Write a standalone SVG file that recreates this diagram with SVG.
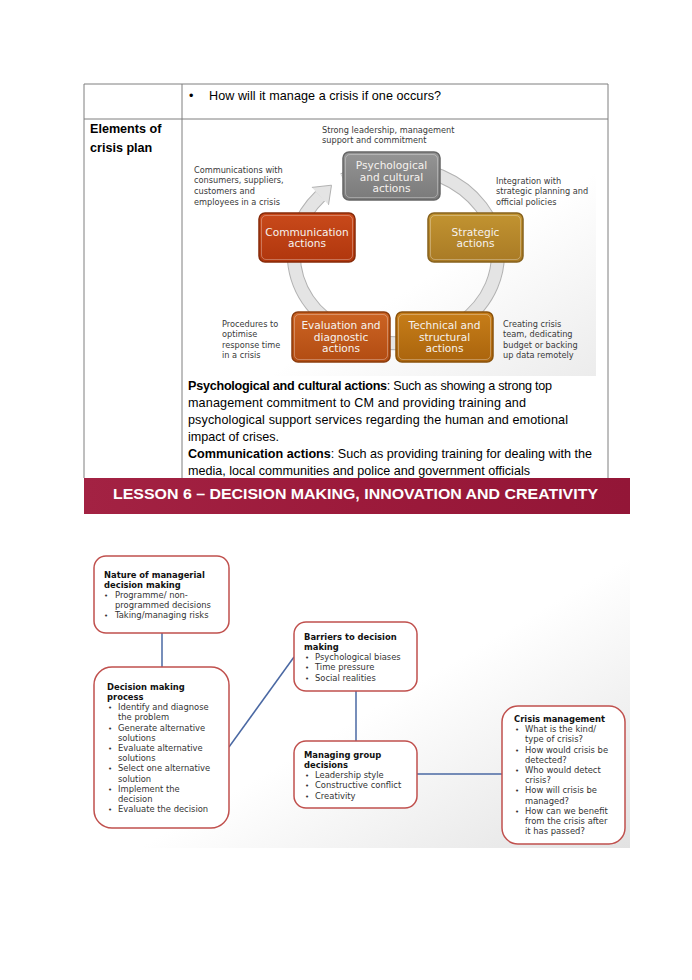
<svg xmlns="http://www.w3.org/2000/svg" width="692" height="980" viewBox="0 0 692 980">
<defs>
<style>
.tbl{stroke:#7f7f7f;stroke-width:1;fill:none}
.cal{font-family:"Liberation Sans",Arial,sans-serif;font-size:12.6px;fill:#000}
.calb{font-weight:bold}
.lbl{font-family:"DejaVu Sans",Verdana,sans-serif;font-size:8.2px;fill:#3a3a3a}
.bx{font-family:"DejaVu Sans",Verdana,sans-serif;font-size:10.6px;fill:#f6f2ee;text-anchor:middle}
.hl{fill:none;stroke:#ffffff;stroke-opacity:0.3;stroke-width:1}
.nd{fill:#ffffff;stroke:#c0504d;stroke-width:1.5}
.nt{font-family:"DejaVu Sans",Verdana,sans-serif;font-size:8.4px;fill:#333333}
.nb{font-weight:bold;fill:#111111}
.bul{font-size:7px}
.cn{stroke:#4a68a3;stroke-width:1.5;fill:none}
</style>
<linearGradient id="gPsy" x1="0" y1="0" x2="0" y2="1"><stop offset="0" stop-color="#959595"/><stop offset="1" stop-color="#7a7a7a"/></linearGradient>
<linearGradient id="gCom" x1="0" y1="0" x2="0" y2="1"><stop offset="0" stop-color="#c94a1b"/><stop offset="1" stop-color="#b0360d"/></linearGradient>
<linearGradient id="gStr" x1="0" y1="0" x2="0" y2="1"><stop offset="0" stop-color="#c29431"/><stop offset="1" stop-color="#a97a25"/></linearGradient>
<linearGradient id="gEva" x1="0" y1="0" x2="0" y2="1"><stop offset="0" stop-color="#cc6424"/><stop offset="1" stop-color="#b24c12"/></linearGradient>
<linearGradient id="gTec" x1="0" y1="0" x2="0" y2="1"><stop offset="0" stop-color="#c77e19"/><stop offset="1" stop-color="#aa640d"/></linearGradient>
<linearGradient id="gBan" x1="0" y1="0" x2="1" y2="0"><stop offset="0" stop-color="#a32243"/><stop offset="0.5" stop-color="#9c1a3b"/><stop offset="1" stop-color="#931637"/></linearGradient>
<linearGradient id="gBg1" x1="0" y1="0" x2="1" y2="1"><stop offset="0" stop-color="#ffffff"/><stop offset="0.6" stop-color="#ffffff"/><stop offset="1" stop-color="#ececec"/></linearGradient>
<linearGradient id="gBg2" x1="0" y1="0" x2="1" y2="1"><stop offset="0" stop-color="#ffffff"/><stop offset="0.55" stop-color="#ffffff"/><stop offset="1" stop-color="#e2e2e2"/></linearGradient>
</defs>
<rect x="0" y="0" width="692" height="980" fill="#ffffff"/>

<!-- table -->
<g id="table">
<rect x="186" y="121" width="410" height="255" fill="url(#gBg1)"/>
<line class="tbl" x1="84" y1="84" x2="608" y2="84"/>
<line class="tbl" x1="84" y1="119" x2="608" y2="119"/>
<line class="tbl" x1="84" y1="84" x2="84" y2="478"/>
<line class="tbl" x1="182" y1="84" x2="182" y2="478"/>
<line class="tbl" x1="608" y1="84" x2="608" y2="478"/>
<text class="cal" x="189" y="99.5">•</text>
<text class="cal" x="209" y="99.5" textLength="232">How will it manage a crisis if one occurs?</text>
<text class="cal calb" x="90" y="133">Elements of</text>
<text class="cal calb" x="90" y="152">crisis plan</text>
</g>

<!-- cycle diagram -->
<g id="cycle-ring">
<path d="M343.5,179.6 A102,88 0 1 1 320.2,196.1" fill="none" stroke="#b2b2b2" stroke-width="14"/>
<path d="M343.5,179.6 A102,88 0 1 1 320.2,196.1" fill="none" stroke="#e4e4e4" stroke-width="12"/>
<path d="M311.9,187.4 L331.5,185.2 L328.5,204.8" fill="#e4e4e4" stroke="#b2b2b2" stroke-width="1"/>
</g>

<g id="psychological">
<rect x="343" y="152" width="97" height="48" rx="6" fill="url(#gPsy)" stroke="#666666" stroke-width="1.5"/>
<rect class="hl" x="345.5" y="154.5" width="92" height="43" rx="4.5"/>
<text class="bx" x="391.5" y="169">Psychological</text>
<text class="bx" x="391.5" y="180.7">and cultural</text>
<text class="bx" x="391.5" y="192.4">actions</text>
</g>
<g id="communication">
<rect x="259" y="213" width="96" height="49" rx="6" fill="url(#gCom)" stroke="#862a09" stroke-width="1.5"/>
<rect class="hl" x="261.5" y="215.5" width="91" height="44" rx="4.5"/>
<text class="bx" x="307" y="235.5">Communication</text>
<text class="bx" x="307" y="247.2">actions</text>
</g>
<g id="strategic">
<rect x="428" y="213" width="95" height="49" rx="6" fill="url(#gStr)" stroke="#87621d" stroke-width="1.5"/>
<rect class="hl" x="430.5" y="215.5" width="90" height="44" rx="4.5"/>
<text class="bx" x="475.5" y="235.5">Strategic</text>
<text class="bx" x="475.5" y="247.2">actions</text>
</g>
<g id="evaluation">
<rect x="292" y="312" width="98" height="50" rx="6" fill="url(#gEva)" stroke="#8c3c0d" stroke-width="1.5"/>
<rect class="hl" x="294.5" y="314.5" width="93" height="45" rx="4.5"/>
<text class="bx" x="341" y="329">Evaluation and</text>
<text class="bx" x="341" y="340.7">diagnostic</text>
<text class="bx" x="341" y="352.4">actions</text>
</g>
<g id="technical">
<rect x="396" y="312" width="97" height="50" rx="6" fill="url(#gTec)" stroke="#8a520a" stroke-width="1.5"/>
<rect class="hl" x="398.5" y="314.5" width="92" height="45" rx="4.5"/>
<text class="bx" x="444.5" y="329">Technical and</text>
<text class="bx" x="444.5" y="340.7">structural</text>
<text class="bx" x="444.5" y="352.4">actions</text>
</g>

<g id="cycle-labels">
<text class="lbl" x="322" y="133">Strong leadership, management</text>
<text class="lbl" x="322" y="142.7">support and commitment</text>
<text class="lbl" x="194" y="172.5">Communications with</text>
<text class="lbl" x="194" y="183.2">consumers, suppliers,</text>
<text class="lbl" x="194" y="193.9">customers and</text>
<text class="lbl" x="194" y="204.6">employees in a crisis</text>
<text class="lbl" x="496" y="183.7">Integration with</text>
<text class="lbl" x="496" y="194.2">strategic planning and</text>
<text class="lbl" x="496" y="204.7">official policies</text>
<text class="lbl" x="222" y="326.5">Procedures to</text>
<text class="lbl" x="222" y="337">optimise</text>
<text class="lbl" x="222" y="347.5">response time</text>
<text class="lbl" x="222" y="358">in a crisis</text>
<text class="lbl" x="503" y="326.5">Creating crisis</text>
<text class="lbl" x="503" y="337">team, dedicating</text>
<text class="lbl" x="503" y="347.5">budget or backing</text>
<text class="lbl" x="503" y="358">up data remotely</text>
</g>

<g id="paragraph">
<text class="cal" x="188" y="389.5" textLength="364"><tspan class="calb">Psychological and cultural actions</tspan>: Such as showing a strong top</text>
<text class="cal" x="188" y="406.5" textLength="338">management commitment to CM and providing training and</text>
<text class="cal" x="188" y="423.5" textLength="380">psychological support services regarding the human and emotional</text>
<text class="cal" x="188" y="440.5">impact of crises.</text>
<text class="cal" x="188" y="457.5" textLength="404"><tspan class="calb">Communication actions</tspan>: Such as providing training for dealing with the</text>
<text class="cal" x="188" y="474.5" textLength="342">media, local communities and police and government officials</text>
</g>

<g id="banner">
<rect x="84" y="478" width="546" height="36" fill="url(#gBan)"/>
<text x="113" y="499" font-family="'Liberation Sans',Arial,sans-serif" font-weight="bold" font-size="15.5" fill="#ffffff" textLength="485" lengthAdjust="spacingAndGlyphs">LESSON 6 – DECISION MAKING, INNOVATION AND CREATIVITY</text>
</g>

<!-- lower diagram -->
<rect x="84" y="524" width="546" height="324" fill="url(#gBg2)"/>

<g id="connectors">
<path class="cn" d="M162,633 V667"/>
<path class="cn" d="M229,747 L294,657"/>
<path class="cn" d="M356,691 V741"/>
<path class="cn" d="M417,774 H502"/>
</g>

<g id="nature">
<rect class="nd" x="94" y="556" width="135" height="77" rx="12"/>
<text class="nt nb" x="104" y="577.5">Nature of managerial</text>
<text class="nt nb" x="104" y="587.7">decision making</text>
<text class="nt bul" x="104" y="597.9">•</text><text class="nt" x="115" y="597.9">Programme/ non-</text>
<text class="nt" x="115" y="608.1">programmed decisions</text>
<text class="nt bul" x="104" y="618.3">•</text><text class="nt" x="115" y="618.3">Taking/managing risks</text>
</g>

<g id="process">
<rect class="nd" x="94" y="667" width="135" height="161" rx="18"/>
<text class="nt nb" x="107" y="689.7">Decision making</text>
<text class="nt nb" x="107" y="699.9">process</text>
<text class="nt bul" x="108" y="710.1">•</text><text class="nt" x="118" y="710.1">Identify and diagnose</text>
<text class="nt" x="118" y="720.3">the problem</text>
<text class="nt bul" x="108" y="730.5">•</text><text class="nt" x="118" y="730.5">Generate alternative</text>
<text class="nt" x="118" y="740.7">solutions</text>
<text class="nt bul" x="108" y="750.9">•</text><text class="nt" x="118" y="750.9">Evaluate alternative</text>
<text class="nt" x="118" y="761.1">solutions</text>
<text class="nt bul" x="108" y="771.3">•</text><text class="nt" x="118" y="771.3">Select one alternative</text>
<text class="nt" x="118" y="781.5">solution</text>
<text class="nt bul" x="108" y="791.7">•</text><text class="nt" x="118" y="791.7">Implement the</text>
<text class="nt" x="118" y="801.9">decision</text>
<text class="nt bul" x="108" y="812.1">•</text><text class="nt" x="118" y="812.1">Evaluate the decision</text>
</g>

<g id="barriers">
<rect class="nd" x="294" y="622" width="123" height="69" rx="12"/>
<text class="nt nb" x="304" y="639.8">Barriers to decision</text>
<text class="nt nb" x="304" y="650">making</text>
<text class="nt bul" x="305" y="660.2">•</text><text class="nt" x="315" y="660.2">Psychological biases</text>
<text class="nt bul" x="305" y="670.4">•</text><text class="nt" x="315" y="670.4">Time pressure</text>
<text class="nt bul" x="305" y="680.6">•</text><text class="nt" x="315" y="680.6">Social realities</text>
</g>

<g id="managing">
<rect class="nd" x="294" y="741" width="123" height="67" rx="12"/>
<text class="nt nb" x="304" y="757.7">Managing group</text>
<text class="nt nb" x="304" y="767.9">decisions</text>
<text class="nt bul" x="305" y="778.1">•</text><text class="nt" x="315" y="778.1">Leadership style</text>
<text class="nt bul" x="305" y="788.3">•</text><text class="nt" x="315" y="788.3">Constructive conflict</text>
<text class="nt bul" x="305" y="798.5">•</text><text class="nt" x="315" y="798.5">Creativity</text>
</g>

<g id="crisis">
<rect class="nd" x="502" y="706" width="123" height="138" rx="16"/>
<text class="nt nb" x="514" y="722">Crisis management</text>
<text class="nt bul" x="515" y="732.2">•</text><text class="nt" x="525" y="732.2">What is the kind/</text>
<text class="nt" x="525" y="742.4">type of crisis?</text>
<text class="nt bul" x="515" y="752.6">•</text><text class="nt" x="525" y="752.6">How would crisis be</text>
<text class="nt" x="525" y="762.8">detected?</text>
<text class="nt bul" x="515" y="773">•</text><text class="nt" x="525" y="773">Who would detect</text>
<text class="nt" x="525" y="783.2">crisis?</text>
<text class="nt bul" x="515" y="793.4">•</text><text class="nt" x="525" y="793.4">How will crisis be</text>
<text class="nt" x="525" y="803.6">managed?</text>
<text class="nt bul" x="515" y="813.8">•</text><text class="nt" x="525" y="813.8">How can we benefit</text>
<text class="nt" x="525" y="824">from the crisis after</text>
<text class="nt" x="525" y="834.2">it has passed?</text>
</g>
</svg>
